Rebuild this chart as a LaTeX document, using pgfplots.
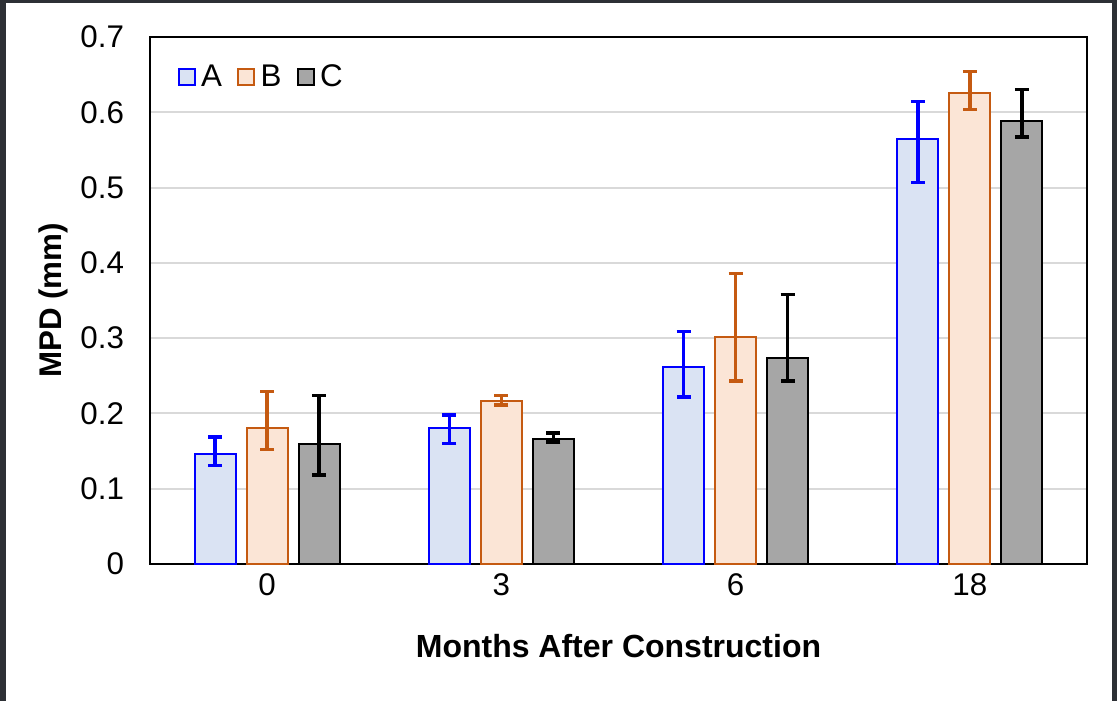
\documentclass[border=0pt]{standalone}
\usepackage{pgfplots}
\pgfplotsset{compat=1.18}
\usepackage{fontspec}
\setmainfont{Liberation Sans}
\definecolor{afill}{HTML}{DAE3F3}
\definecolor{aedge}{HTML}{0000FF}
\definecolor{bfill}{HTML}{FBE5D6}
\definecolor{bedge}{HTML}{C55A11}
\definecolor{cfill}{HTML}{A6A6A6}
\definecolor{gridc}{HTML}{D9D9D9}
\definecolor{frame}{HTML}{2D3035}
\begin{document}
\begin{tikzpicture}
\useasboundingbox (-112.5pt,-102.75pt) rectangle (725.25pt,423pt);
\begin{axis}[
  at={(0pt,0pt)}, anchor=south west,
  scale only axis,
  width=702.75pt, height=395.25pt,
  ymin=0, ymax=0.7,
  xmin=-0.5, xmax=3.5,
  xtick={0,1,2,3},
  xticklabels={0,3,6,18},
  ytick={0,0.1,0.2,0.3,0.4,0.5,0.6,0.7},
  yticklabels={0,0.1,0.2,0.3,0.4,0.5,0.6,0.7},
  major tick length=0pt,
  axis line style={line width=1.5pt, black},
  ymajorgrids,
  grid style={line width=1.5pt, gridc},
  tick label style={font=\fontsize{23.5}{27}\selectfont},
  yticklabel style={xshift=-16pt},
  xticklabel style={yshift=-4pt},
  xlabel={Months After Construction},
  ylabel={MPD (mm)},
  xlabel style={font=\bfseries\fontsize{24}{28}\selectfont, at={(axis description cs:0.5,-0.156)}, anchor=center},
  ylabel style={font=\bfseries\fontsize{23.5}{28}\selectfont, at={(axis description cs:-0.103,0.5)}, anchor=center},
  ybar, bar width=30.75pt,
  legend style={at={(0.025,0.958)}, anchor=north west, draw=none, fill=none,
    font=\fontsize{23.5}{27}\selectfont, legend columns=-1,
    /tikz/every odd column/.append style={column sep=2pt},
    /tikz/every even column/.append style={column sep=9.5pt}},
  legend image code/.code={\draw[#1,line width=1.5pt] (0pt,-6pt) rectangle (12pt,6pt);},
]
\addplot[fill=afill, draw=aedge, line width=1.5pt, bar shift=-39pt,
  error bars/.cd, y dir=both, y explicit,
  error bar style={color=aedge, line width=2.6pt},
  error mark options={color=aedge, rotate=90, mark size=5.25pt, line width=2.6pt}]
  table[x=x, y=y, y error plus=ep, y error minus=em] {
x y ep em
0 0.146 0.023 0.015
1 0.180 0.018 0.020
2 0.262 0.047 0.040
3 0.565 0.049 0.058
};
\addplot[fill=bfill, draw=bedge, line width=1.5pt, bar shift=0pt,
  error bars/.cd, y dir=both, y explicit,
  error bar style={color=bedge, line width=2.6pt},
  error mark options={color=bedge, rotate=90, mark size=5.25pt, line width=2.6pt}]
  table[x=x, y=y, y error plus=ep, y error minus=em] {
x y ep em
0 0.180 0.049 0.028
1 0.217 0.007 0.006
2 0.302 0.084 0.059
3 0.626 0.028 0.022
};
\addplot[fill=cfill, draw=black, line width=1.5pt, bar shift=39pt,
  error bars/.cd, y dir=both, y explicit,
  error bar style={color=black, line width=2.6pt},
  error mark options={color=black, rotate=90, mark size=5.25pt, line width=2.6pt}]
  table[x=x, y=y, y error plus=ep, y error minus=em] {
x y ep em
0 0.159 0.065 0.041
1 0.166 0.008 0.004
2 0.273 0.085 0.030
3 0.589 0.041 0.022
};
\legend{A,B,C}
\end{axis}
\fill[frame] (-112.5pt,420.75pt) rectangle (725.25pt,423pt);
\fill[frame] (-112.5pt,-102.75pt) rectangle (-108pt,423pt);
\fill[frame] (721.5pt,-102.75pt) rectangle (725.25pt,423pt);
\end{tikzpicture}
\end{document}
